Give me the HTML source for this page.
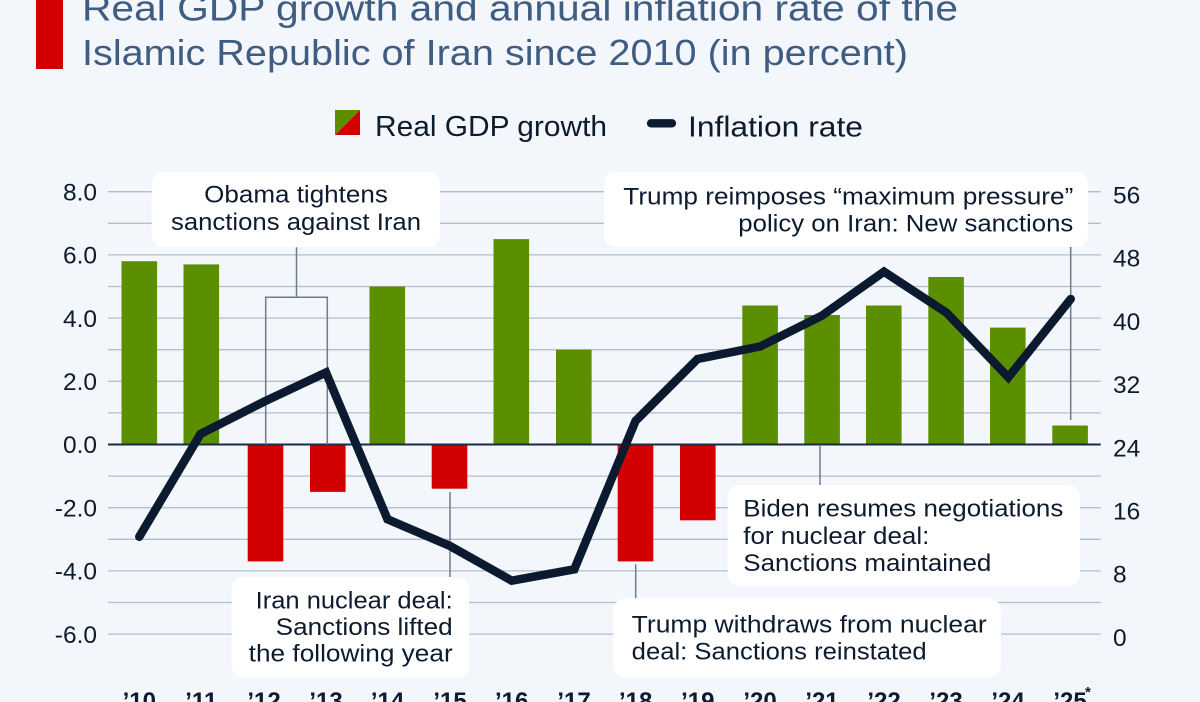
<!DOCTYPE html>
<html>
<head>
<meta charset="utf-8">
<style>
  html,body{margin:0;padding:0;background:#f3f6fa;}
  svg{display:block;}
  text{font-family:"Liberation Sans",sans-serif;}
</style>
</head>
<body>
<svg width="1200" height="702" viewBox="0 0 1200 702" xmlns="http://www.w3.org/2000/svg">
  <rect x="0" y="0" width="1200" height="702" fill="#f3f6fa"/>

  <!-- Title -->
  <rect x="36" y="0" width="27" height="69" fill="#d20000"/>
  <text x="82" y="20.7" font-size="36" fill="#3f5d82" textLength="876" lengthAdjust="spacingAndGlyphs">Real GDP growth and annual inflation rate of the</text>
  <text x="82" y="65" font-size="36" fill="#3f5d82" textLength="826" lengthAdjust="spacingAndGlyphs">Islamic Republic of Iran since 2010 (in percent)</text>

  <!-- Legend -->
  <polygon points="335,110 360,110 335,135" fill="#5b8f00"/>
  <polygon points="360,110 360,135 335,135" fill="#d20000"/>
  <text x="375" y="136" font-size="29" fill="#0d1b2e" textLength="232" lengthAdjust="spacingAndGlyphs">Real GDP growth</text>
  <line x1="651" y1="123.3" x2="672" y2="123.3" stroke="#0b1a2f" stroke-width="8.3" stroke-linecap="round"/>
  <text x="688" y="136.7" font-size="29" fill="#0d1b2e" textLength="175" lengthAdjust="spacingAndGlyphs">Inflation rate</text>

  <!-- Gridlines -->
  <g stroke="#b4bdc9" stroke-width="1.3">
    <line x1="108" y1="191.7" x2="1100.7" y2="191.7"/>
    <line x1="108" y1="223.3" x2="1100.7" y2="223.3"/>
    <line x1="108" y1="254.9" x2="1100.7" y2="254.9"/>
    <line x1="108" y1="286.5" x2="1100.7" y2="286.5"/>
    <line x1="108" y1="318.1" x2="1100.7" y2="318.1"/>
    <line x1="108" y1="349.7" x2="1100.7" y2="349.7"/>
    <line x1="108" y1="381.3" x2="1100.7" y2="381.3"/>
    <line x1="108" y1="412.9" x2="1100.7" y2="412.9"/>
    <line x1="108" y1="476.1" x2="1100.7" y2="476.1"/>
    <line x1="108" y1="507.7" x2="1100.7" y2="507.7"/>
    <line x1="108" y1="539.3" x2="1100.7" y2="539.3"/>
    <line x1="108" y1="570.9" x2="1100.7" y2="570.9"/>
    <line x1="108" y1="602.5" x2="1100.7" y2="602.5"/>
    <line x1="108" y1="634.1" x2="1100.7" y2="634.1"/>
  </g>

  <!-- Left axis labels -->
  <g font-size="24.5" fill="#0d1b2e" text-anchor="end">
    <text x="97" y="200.4">8.0</text>
    <text x="97" y="263.6">6.0</text>
    <text x="97" y="326.8">4.0</text>
    <text x="97" y="390">2.0</text>
    <text x="97" y="453.2">0.0</text>
    <text x="97" y="516.4">-2.0</text>
    <text x="97" y="579.6">-4.0</text>
    <text x="97" y="642.8">-6.0</text>
  </g>
  <!-- Right axis labels -->
  <g font-size="24.5" fill="#0d1b2e" text-anchor="start">
    <text x="1113" y="203.5">56</text>
    <text x="1113" y="266.7">48</text>
    <text x="1113" y="329.9">40</text>
    <text x="1113" y="393.1">32</text>
    <text x="1113" y="456.3">24</text>
    <text x="1113" y="519.5">16</text>
    <text x="1113" y="582.7">8</text>
    <text x="1113" y="645.9">0</text>
  </g>

  <!-- Bars -->
  <g>
    <rect x="121.5" y="261.2" width="35.6" height="183.3" fill="#5b8f00"/>
    <rect x="183.5" y="264.4" width="35.6" height="180.1" fill="#5b8f00"/>
    <rect x="247.7" y="444.5" width="35.6" height="116.9" fill="#d20000"/>
    <rect x="310" y="444.5" width="35.6" height="47.4" fill="#d20000"/>
    <rect x="369.5" y="286.5" width="35.6" height="158" fill="#5b8f00"/>
    <rect x="431.7" y="444.5" width="35.6" height="44.2" fill="#d20000"/>
    <rect x="493.5" y="239.1" width="35.6" height="205.4" fill="#5b8f00"/>
    <rect x="556" y="349.7" width="35.6" height="94.8" fill="#5b8f00"/>
    <rect x="617.7" y="444.5" width="35.6" height="116.9" fill="#d20000"/>
    <rect x="680" y="444.5" width="35.6" height="75.8" fill="#d20000"/>
    <rect x="742.3" y="305.5" width="35.6" height="139" fill="#5b8f00"/>
    <rect x="804.3" y="315" width="35.6" height="129.5" fill="#5b8f00"/>
    <rect x="866" y="305.5" width="35.6" height="139" fill="#5b8f00"/>
    <rect x="928.3" y="277" width="35.6" height="167.5" fill="#5b8f00"/>
    <rect x="990" y="327.6" width="35.6" height="116.9" fill="#5b8f00"/>
    <rect x="1052.3" y="425.5" width="35.6" height="19" fill="#5b8f00"/>
  </g>

  <!-- Zero line -->
  <line x1="108" y1="444.5" x2="1100.7" y2="444.5" stroke="#1a2b44" stroke-width="2"/>

  <!-- Connectors -->
  <g stroke="#6f7c8e" stroke-width="1.5" fill="none">
    <line x1="296.5" y1="247" x2="296.5" y2="297.3"/>
    <polyline points="265.7,444.5 265.7,297.3 327.3,297.3 327.3,444.5"/>
    <line x1="450" y1="492" x2="450" y2="577"/>
    <line x1="635.7" y1="564.3" x2="635.7" y2="598.3"/>
    <line x1="820" y1="446" x2="820" y2="485"/>
    <line x1="1070.7" y1="247" x2="1070.7" y2="420"/>
  </g>

  <!-- Inflation line -->
  <polyline fill="none" stroke="#0b1a2f" stroke-width="8.5" stroke-linecap="round" stroke-linejoin="miter" stroke-miterlimit="4"
    points="139.3,536.7 200.5,434 264,401.7 326,372.5 387.5,519.3 450,546 511.7,580.7 574.3,569.3 635.5,421 697.5,359 760,346.5 821.8,315.7 884,271.7 946.5,312.7 1008.3,377.3 1070.7,299"/>

  <!-- Annotation boxes -->
  <g fill="#ffffff">
    <rect x="151.7" y="171.7" width="288.3" height="75.6" rx="12"/>
    <rect x="604" y="171.7" width="484" height="75.3" rx="12"/>
    <rect x="231.7" y="577" width="237.3" height="101.3" rx="12"/>
    <rect x="613.3" y="598.3" width="387.7" height="79" rx="12"/>
    <rect x="727.7" y="485" width="352.3" height="101" rx="12"/>
  </g>

  <g font-size="24.5" fill="#0d1b2e">
    <text x="296" y="202.7" text-anchor="middle" textLength="183.7" lengthAdjust="spacingAndGlyphs">Obama tightens</text>
    <text x="296" y="230" text-anchor="middle" textLength="250" lengthAdjust="spacingAndGlyphs">sanctions against Iran</text>

    <text x="623.3" y="204.5" textLength="450" lengthAdjust="spacingAndGlyphs">Trump reimposes “maximum pressure”</text>
    <text x="738.3" y="231.7" textLength="335" lengthAdjust="spacingAndGlyphs">policy on Iran: New sanctions</text>

    <text x="255.7" y="608.3" textLength="197" lengthAdjust="spacingAndGlyphs">Iran nuclear deal:</text>
    <text x="275.7" y="635" textLength="177" lengthAdjust="spacingAndGlyphs">Sanctions lifted</text>
    <text x="248.7" y="661.7" textLength="204" lengthAdjust="spacingAndGlyphs">the following year</text>

    <text x="631.7" y="632.3" textLength="355" lengthAdjust="spacingAndGlyphs">Trump withdraws from nuclear</text>
    <text x="631.7" y="659.3" textLength="295" lengthAdjust="spacingAndGlyphs">deal: Sanctions reinstated</text>

    <text x="743.3" y="516.7" textLength="320" lengthAdjust="spacingAndGlyphs">Biden resumes negotiations</text>
    <text x="743.3" y="544" textLength="186" lengthAdjust="spacingAndGlyphs">for nuclear deal:</text>
    <text x="743.3" y="571" textLength="248" lengthAdjust="spacingAndGlyphs">Sanctions maintained</text>
  </g>

  <!-- Year labels -->
  <g font-size="24" font-weight="bold" fill="#0d1b2e" text-anchor="middle">
    <text x="139.3" y="709">’10</text>
    <text x="201.3" y="709">’11</text>
    <text x="264" y="709">’12</text>
    <text x="326" y="709">’13</text>
    <text x="387.5" y="709">’14</text>
    <text x="450" y="709">’15</text>
    <text x="511.7" y="709">’16</text>
    <text x="574" y="709">’17</text>
    <text x="635.7" y="709">’18</text>
    <text x="697.8" y="709">’19</text>
    <text x="760" y="709">’20</text>
    <text x="822" y="709">’21</text>
    <text x="884" y="709">’22</text>
    <text x="946" y="709">’23</text>
    <text x="1008" y="709">’24</text>
    <text x="1070" y="709">’25</text>
  </g>
  <text x="1085" y="697" font-size="15" font-weight="bold" fill="#0d1b2e">*</text>
</svg>
</body>
</html>
